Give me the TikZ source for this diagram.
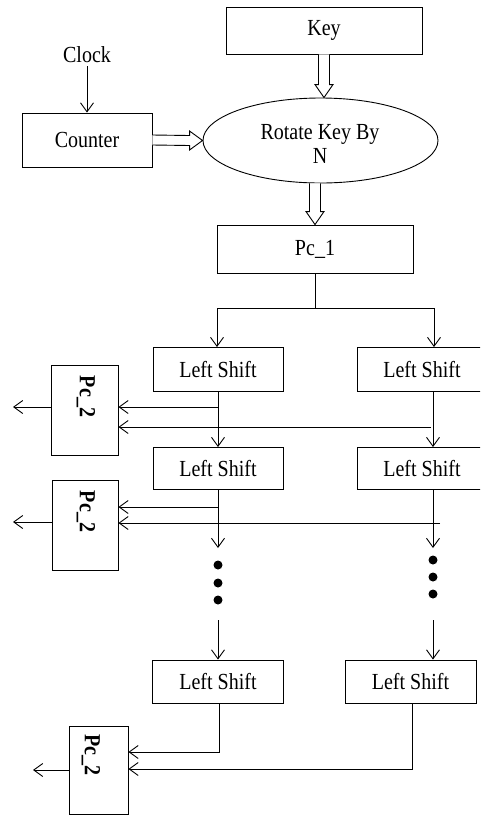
\documentclass[tikz,border=0pt]{standalone}
\usepackage{fontspec}
\setmainfont[FakeStretch=0.87]{Liberation Serif}
\usetikzlibrary{calc,shapes.geometric,arrows.meta}
\newcommand\hollowdown[2]{%
  \draw[line width=0.9pt, fill=white] ($(#1)+(-5.5,0)$) -- ($(#2)+(-5.5,-13)$) -- ($(#2)+(-9,-13)$) -- (#2) -- ($(#2)+(9,-13)$) -- ($(#2)+(5.5,-13)$) -- ($(#1)+(5.5,0)$);}
\newcommand\hollowright[2]{%
  \draw[line width=0.9pt, fill=white] ($(#1)+(0,-5)$) -- ($(#2)+(-13,-5)$) -- ($(#2)+(-13,-9.5)$) -- (#2) -- ($(#2)+(-13,9.5)$) -- ($(#2)+(-13,5)$) -- ($(#1)+(0,5)$);}
\begin{document}
\begin{tikzpicture}[x=1pt,y=-1pt,
  txt/.style={font=\fontsize{23}{24}\selectfont},
  box/.style={draw, line width=0.9pt, inner sep=0pt, txt},
  shiftbox/.style={box, minimum width=130pt, minimum height=44pt},
  pcbox/.style={draw, line width=0.9pt, inner sep=0pt},
  pctext/.style={rotate=-90, font=\fontsize{23}{24}\selectfont\bfseries, inner sep=0pt},
  arr/.style={line width=0.9pt, -{Straight Barb[length=9pt,width=13pt,line width=0.9pt]}},
  ln/.style={line width=0.9pt},
  dot/.style={circle, fill=black, inner sep=0pt, minimum size=9pt}]
\useasboundingbox (0,0) rectangle (480,815);
\clip (0,0) rectangle (480,815);

% top part
\node[box, minimum width=196pt, minimum height=47pt] (key) at (324,30.5) {Key};
\node[txt, inner sep=0pt] (clock) at (87,55) {Clock};
\node[box, minimum width=130pt, minimum height=54pt] (counter) at (87,140) {Counter};
\node[ellipse, draw, line width=0.9pt, minimum width=235pt, minimum height=85pt, inner sep=0pt] (rot) at (320.5,140.5) {};
\node[txt, align=center, inner sep=0pt] (rottext) at (320,144) {Rotate Key By\\N};
\node[box, minimum width=196pt, minimum height=48pt] (pc1) at (315,249) {Pc\_1};

\draw[arr] (clock.south) ++(0,3) -- (counter.north);
\hollowdown{key.south}{key.south |- rot.north}
\hollowright{counter.east}{rot.west}
\hollowdown{pc1.north |- rot.south}{pc1.north}

% left shift boxes
\node[shiftbox] (L1) at (218,369.5) {Left Shift};
\node[shiftbox] (R1) at (422,369.5) {Left Shift};
\node[shiftbox, minimum height=42pt] (L2) at (218,468.5) {Left Shift};
\node[shiftbox, minimum height=42pt] (R2) at (422,468.5) {Left Shift};
\node[shiftbox, minimum height=43pt, minimum width=131pt] (L3) at (218,681.5) {Left Shift};
\node[shiftbox, minimum height=43pt, minimum width=131pt] (R3) at (410.5,681.5) {Left Shift};

% Pc_2 boxes
\node[pcbox, minimum width=67pt, minimum height=90pt] (P1) at (84.5,410) {};
\node[pctext] (P1t) at (86,396.5) {Pc\_2};
\node[pcbox, minimum width=66pt, minimum height=90pt] (P2) at (85,525) {};
\node[pctext] (P2t) at (86,511.5) {Pc\_2};
\node[pcbox, minimum width=59pt, minimum height=88pt] (P3) at (98.5,770) {};
\node[pctext] (P3t) at (91,755) {Pc\_2};

% split after Pc_1
\coordinate (sp) at (pc1.south |- 0,308);
\coordinate (spL) at (217,308);
\coordinate (spR) at (434,308);
\draw[ln] (pc1.south) -- (sp);
\draw[ln] (spL) -- (spR);
\draw[arr] (spL) -- (spL |- L1.north);
\draw[arr] (spR) -- (spR |- R1.north);

% row 1
\coordinate (c1) at (433,392);
\draw[arr] (L1.south) -- (L2.north);
\draw[arr] (c1) -- (c1 |- R2.north);
\coordinate (t1) at (218,407);
\coordinate (u1) at (431,427);
\draw[arr] (t1) -- (t1 -| P1.east);
\draw[arr] (u1) -- (u1 -| P1.east);
\coordinate (o1) at (13,407);
\draw[arr] (o1 -| P1.west) -- (o1);

% row 2
\coordinate (c2) at (433,489);
\coordinate (dL) at (218,548);
\coordinate (dR) at (433,548);
\draw[arr] (L2.south) -- (dL);
\draw[arr] (c2) -- (dR);
\coordinate (t2) at (218,507);
\coordinate (u2) at (440,523);
\draw[arr] (t2) -- (t2 -| P2.east);
\draw[arr] (u2) -- (u2 -| P2.east);
\coordinate (o2) at (13,522);
\draw[arr] (o2 -| P2.west) -- (o2);

% dots
\node[dot] (d1) at (218,565) {};
\node[dot] (d2) at (218,583) {};
\node[dot] (d3) at (218,600) {};
\node[dot] (e1) at (433,560) {};
\node[dot] (e2) at (433,577) {};
\node[dot] (e3) at (433,594) {};

% arrows into row 3
\coordinate (aL) at (218,620);
\coordinate (aR) at (433,620);
\draw[arr] (aL) -- (aL |- L3.north);
\draw[arr] (aR) -- (aR |- R3.north);

% row 3
\coordinate (b3L) at (219,703);
\coordinate (b3R) at (412,703);
\draw[arr] (b3L) -- (219,752) -- (P3.east |- 0,752);
\draw[arr] (b3R) -- (412,769) -- (P3.east |- 0,769);
\coordinate (o3) at (33,770);
\draw[arr] (o3 -| P3.west) -- (o3);
\end{tikzpicture}
\end{document}
